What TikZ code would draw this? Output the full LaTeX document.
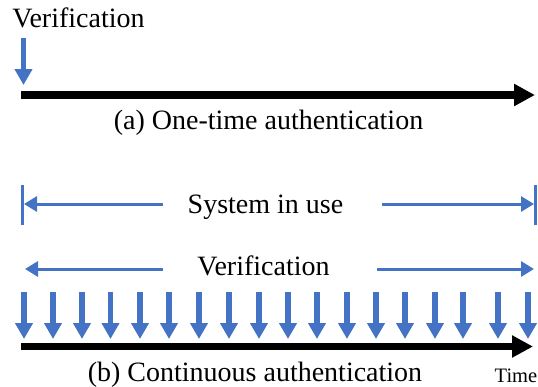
\documentclass[tikz,border=0pt]{standalone}
\usepackage{fontspec}
\setmainfont{Liberation Serif}
\usetikzlibrary{arrows.meta}
\definecolor{vblue}{HTML}{4472C4}
\tikzset{
  timeline/.style={line width=7.5pt, -{Triangle[length=21pt,width=21pt]}},
  checkarrow/.style={vblue, line width=5.5pt, -{Triangle[length=16pt,width=17pt]}},
  spanarrow/.style={vblue, line width=3pt, -{Triangle[length=13pt,width=15pt]}},
  spanbar/.style={vblue, line width=3pt},
  caption/.style={inner sep=0pt, anchor=base, font=\fontsize{28}{28}\selectfont},
  smallcaption/.style={inner sep=0pt, anchor=base, font=\fontsize{20.5}{20.5}\selectfont}
}
\begin{document}
\begin{tikzpicture}[x=1pt, y=-1pt]
  \useasboundingbox (0,0) rectangle (538,386);

  % (a) one-time authentication
  \node[caption] (verA) at (78.5,27) {Verification};
  \coordinate (vs) at (23.5,38);
  \coordinate (ve) at (23.5,85);
  \draw[checkarrow] (vs) -- (ve);
  \coordinate (a0) at (21,95);
  \coordinate (a1) at (535,95);
  \draw[timeline] (a0) -- (a1);
  \node[caption] (capA) at (268.5,129) {(a) One-time authentication};

  % (b) continuous authentication: system-in-use span
  \coordinate (barLt) at (22,185);
  \coordinate (barLb) at (22,225);
  \coordinate (barRt) at (535.5,185);
  \coordinate (barRb) at (535.5,225);
  \draw[spanbar] (barLt) -- (barLb);
  \draw[spanbar] (barRt) -- (barRb);
  \node[caption] (sys) at (265.5,213) {System in use};
  \coordinate (sysL) at (163,204);
  \coordinate (sysLt) at (24,204);
  \coordinate (sysR) at (382,204);
  \coordinate (sysRt) at (534,204);
  \draw[spanarrow] (sysL) -- (sysLt);
  \draw[spanarrow] (sysR) -- (sysRt);

  % verification span
  \node[caption] (verB) at (263.5,275) {Verification};
  \coordinate (verL) at (163,269);
  \coordinate (verLt) at (25,269);
  \coordinate (verR) at (377,269);
  \coordinate (verRt) at (534,269);
  \draw[spanarrow] (verL) -- (verLt);
  \draw[spanarrow] (verR) -- (verRt);

  % repeated verification checks
  \foreach \x [count=\i] in {24,53,82,110.5,140,169,199,229,259,288,317,347,376,405,435,463,498,528} {
    \coordinate (d\i s) at (\x,292);
    \coordinate (d\i e) at (\x,339);
    \draw[checkarrow] (d\i s) -- (d\i e);
  }

  \coordinate (b0) at (21,346.5);
  \coordinate (b1) at (533,346.5);
  \draw[timeline] (b0) -- (b1);
  \node[caption] (capB) at (255,381) {(b) Continuous authentication};
  \node[smallcaption] (time) at (516,382) {Time};
\end{tikzpicture}
\end{document}
